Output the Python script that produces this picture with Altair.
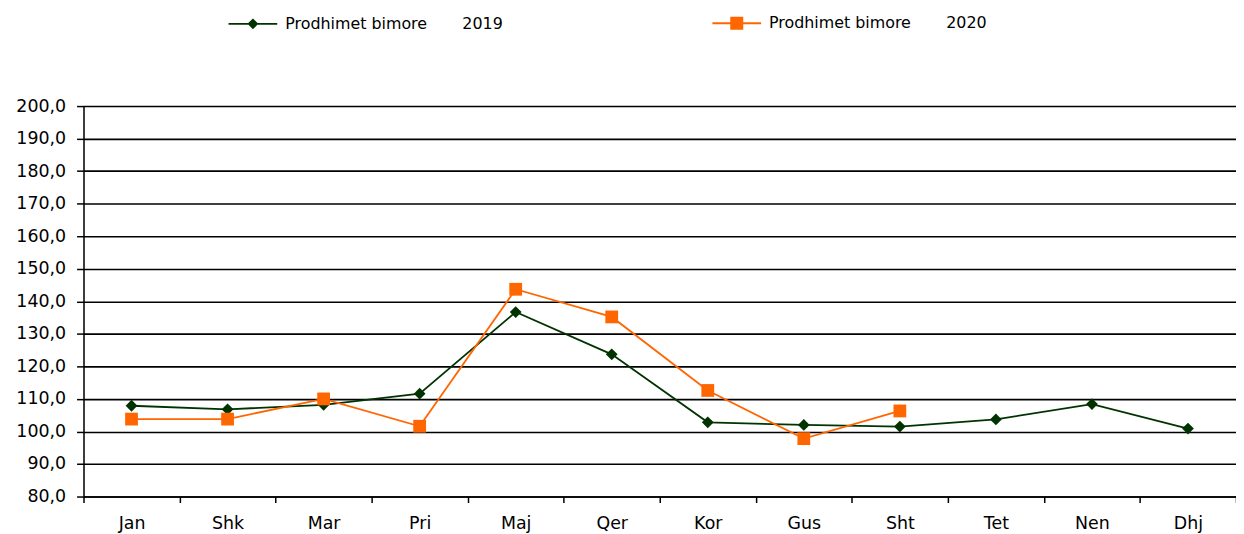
import altair as alt
import pandas as pd

months = ["Jan", "Shk", "Mar", "Pri", "Maj", "Qer", "Kor", "Gus", "Sht", "Tet", "Nen", "Dhj"]
v2019 = [107.9, 106.8, 108.2, 111.6, 136.7, 123.7, 102.8, 102.0, 101.5, 103.7, 108.4, 100.9]
v2020 = [103.8, 103.8, 110.0, 101.6, 143.7, 135.2, 112.6, 97.8, 106.3]
y_ticks = [80, 90, 100, 110, 120, 130, 140, 150, 160, 170, 180, 190, 200]

gap = "\u00a0" * 7
s19 = "Prodhimet bimore" + gap + "2019"
s20 = "Prodhimet bimore" + gap + "2020"
series = [s19, s20]
colors = ["#003300", "#FF6600"]

rows = []
for m, v in zip(months, v2019):
    rows.append({"month": m, "value": v, "series": s19})
for m, v in zip(months, v2020):
    rows.append({"month": m, "value": v, "series": s20})
df = pd.DataFrame(rows)

FONT = "DejaVu Sans"

x_enc = alt.X(
    "month:N",
    sort=months,
    title=None,
    scale=alt.Scale(type="band", paddingInner=0, paddingOuter=0),
    axis=alt.Axis(
        labelAngle=0, labelFont=FONT, labelFontSize=17.5, labelColor="black",
        tickColor="black", tickSize=6, tickWidth=1.5, domainColor="black", domainWidth=1.5,
        labelPadding=12, grid=False, tickBand="extent",
    ),
)
y_enc = alt.Y(
    "value:Q",
    title=None,
    scale=alt.Scale(domain=[80, 200], nice=False, zero=False),
    axis=alt.Axis(
        values=y_ticks, labelExpr="replace(format(datum.value, '.1f'), '.', ',')",
        labelFont=FONT, labelFontSize=17.5, labelColor="black",
        tickColor="black", tickSize=7, tickWidth=1.5, domainColor="black", domainWidth=1.5,
        labelPadding=11, grid=True, gridColor="black", gridWidth=1.6,
    ),
)

legend_paths = [
    "M-1,0H1M0,-0.17L0.17,0L0,0.17L-0.17,0Z",
    "M-1,0H1M-0.23,-0.23H0.23V0.23H-0.23Z",
]
legend = alt.Legend(
    orient="none", legendX=145, legendY=-109, direction="horizontal", columns=2,
    columnPadding=206, title=None, labelFont=FONT, labelFontSize=16, labelColor="black",
    labelLimit=600, symbolSize=2401, symbolStrokeWidth=1.8, padding=0, labelOffset=7,
    symbolOpacity=1,
)

base = alt.Chart(df)
layers = []
for s, c, shp, sz in zip(series, colors, ["diamond", "square"], [140, 165]):
    sub = base.transform_filter(alt.datum.series == s)
    layers.append(sub.mark_line(strokeWidth=1.8, color=c).encode(x=x_enc, y=y_enc))
    layers.append(
        sub.mark_point(filled=True, opacity=1, shape=shp, size=sz, color=c).encode(x=x_enc, y=y_enc)
    )

# layer with no rows that only carries the legend (line + marker symbols)
leg_layer = base.transform_filter("false").mark_point(filled=True).encode(
    x=x_enc, y=y_enc,
    color=alt.Color("series:N", scale=alt.Scale(domain=series, range=colors), legend=legend),
    stroke=alt.Stroke("series:N", scale=alt.Scale(domain=series, range=colors), legend=legend),
    shape=alt.Shape("series:N", scale=alt.Scale(domain=series, range=legend_paths), legend=legend),
)
layers.append(leg_layer)

chart = alt.layer(*layers).properties(
    width=1160, height=393,
    padding={"left": 76, "top": 97, "right": 0, "bottom": 36},
    autosize=alt.AutoSizeParams(type="none"),
).configure_view(stroke=None).configure(background="white")

chart.save("out.html", embed_options={"renderer": "svg", "actions": False})
